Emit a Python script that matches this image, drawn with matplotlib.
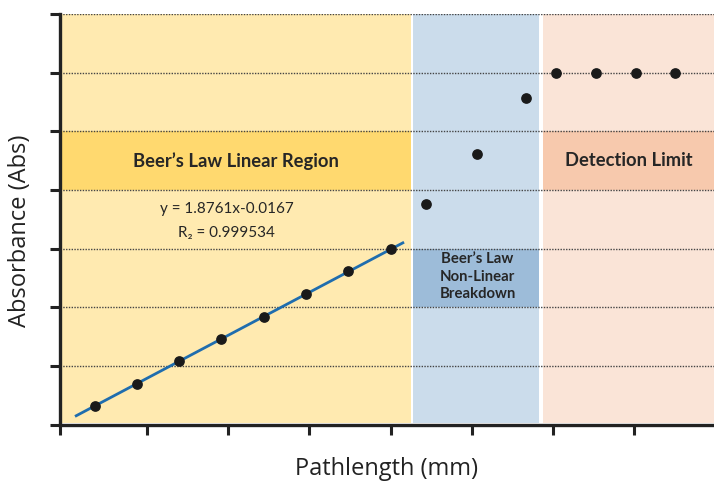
import numpy as np
import matplotlib.pyplot as plt
from matplotlib.patches import Rectangle

# linear region measurements
lin_x = [0.36, 0.88, 1.40, 1.91, 2.44, 2.96, 3.48, 4.00]
lin_y = [0.32, 0.70, 1.08, 1.46, 1.84, 2.22, 2.61, 2.99]
# non-linear breakdown
nl_x = [4.44, 5.06, 5.66]
nl_y = [3.76, 4.61, 5.57]
# detection limit (saturated)
dl_x = [6.04, 6.53, 7.02, 7.50]
dl_y = [6.0, 6.0, 6.0, 6.0]

# regions: (x start, x end, light colour, band y0, band y1, band colour)
regions = [
    (-0.07, 4.25, "#FFEAB0", 4, 5, "#FFD96F"),
    (4.27, 5.83, "#CBDCEB", 2, 3, "#9DBCD9"),
    (5.87, 8.2, "#FAE4D7", 4, 5, "#F7C9AD"),
]

fig = plt.figure(figsize=(7.14, 4.83), dpi=100)
ax = fig.add_axes([0.084, 0.121, 0.916, 0.850])

for x0, x1, c, b0, b1, bc in regions:
    ax.add_patch(Rectangle((x0, 0.03), x1 - x0, 6.97, facecolor=c, edgecolor="none", zorder=0.8))
    ax.add_patch(Rectangle((x0, b0), x1 - x0, b1 - b0, facecolor=bc, edgecolor="none", zorder=0.9))

ax.set_xlim(-0.07, 7.98)
ax.set_ylim(0, 7)
ax.set_xticks([-0.07] + list(range(1, 8)))
ax.set_yticks(range(0, 8))
ax.set_xticklabels([])
ax.set_yticklabels([])
ax.yaxis.grid(True, linestyle=(0, (1, 1)), color="#444444", lw=1.0)
ax.tick_params(direction="out", length=7, width=2.2, color="#222222")
for s in ["top", "right"]:
    ax.spines[s].set_visible(False)
for s in ["left", "bottom"]:
    ax.spines[s].set_linewidth(2.4)
    ax.spines[s].set_color("#222222")
    ax.spines[s].set_zorder(5)

# linear fit
k, b = np.polyfit(lin_x, lin_y, 1)
fx = np.array([0.13, 4.15])
ax.plot(fx, k * fx + b, color="#1F6DAE", lw=2.0, zorder=3)

pts_x = lin_x + nl_x + dl_x
pts_y = lin_y + nl_y + dl_y
ax.plot(pts_x, pts_y, "o", color="#1a1a1a", ms=6.7, zorder=4, clip_on=False)

bold = dict(family="Lato", fontweight="bold", color="#262626", ha="center", va="center", zorder=6)
ax.text(2.09, 4.5, "Beer’s Law Linear Region", fontsize=13.2, **bold)
ax.text(6.93, 4.5, "Detection Limit", fontsize=13.2, **bold)
ax.text(5.07, 2.52, "Beer’s Law\nNon-Linear\nBreakdown", fontsize=10.7, linespacing=1.3, **bold)

reg = dict(family="Lato", color="#262626", ha="center", va="center", zorder=6)
ax.text(1.985, 3.68, "y = 1.8761x-0.0167", fontsize=11, **reg)
ax.text(1.985, 3.27, "R₂ = 0.999534", fontsize=11, **reg)

fig.text(0.028, 0.522, "Absorbance (Abs)", rotation=90, fontsize=17, family="Open Sans",
         color="#222222", ha="center", va="center")
fig.text(0.542, 0.028, "Pathlength (mm)", fontsize=17, family="Open Sans",
         color="#222222", ha="center", va="center")

fig.savefig("out.png", dpi=100)
